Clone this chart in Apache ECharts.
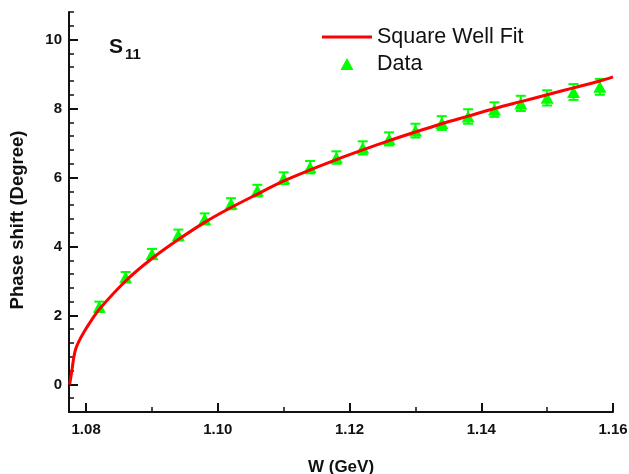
<!DOCTYPE html>
<html>
<head>
<meta charset="utf-8">
<script src="https://cdn.jsdelivr.net/npm/echarts@6/dist/echarts.min.js"></script>
<style>html,body{margin:0;padding:0;background:#fff}#c{width:629px;height:474px}</style>
</head>
<body>
<div id="c"></div>
<script>
// ---- data ----
const fitW = [1.0775, 1.0778, 1.0781, 1.0784, 1.0789, 1.0797, 1.0807, 1.082, 1.086, 1.090, 1.094, 1.098, 1.102, 1.106, 1.110, 1.114, 1.118, 1.122, 1.126, 1.130, 1.134, 1.138, 1.142, 1.146, 1.150, 1.154, 1.158, 1.160];
const fitDelta = [0, 0.35, 0.75, 1.02, 1.25, 1.53, 1.83, 2.18, 3.0, 3.65, 4.2, 4.7, 5.13, 5.52, 5.9, 6.22, 6.52, 6.8, 7.07, 7.32, 7.56, 7.78, 8.0, 8.2, 8.4, 8.6, 8.8, 8.92];
const dataW = [1.082, 1.086, 1.090, 1.094, 1.098, 1.102, 1.106, 1.110, 1.114, 1.118, 1.122, 1.126, 1.130, 1.134, 1.138, 1.142, 1.146, 1.150, 1.154, 1.158];
const dataDelta = [2.25, 3.11, 3.78, 4.33, 4.80, 5.24, 5.62, 5.98, 6.30, 6.58, 6.86, 7.12, 7.36, 7.58, 7.77, 7.97, 8.15, 8.31, 8.48, 8.63];
const dataErr = [0.15, 0.15, 0.15, 0.16, 0.16, 0.16, 0.17, 0.17, 0.18, 0.18, 0.19, 0.19, 0.2, 0.2, 0.21, 0.21, 0.22, 0.22, 0.23, 0.23];
const xTickLabels = [1.08, 1.10, 1.12, 1.14, 1.16];
const xMinorTicks = [1.09, 1.11, 1.13, 1.15];
const yTickLabels = [0, 2, 4, 6, 8, 10];

const FONT = 'Liberation Sans, Arial, Helvetica, sans-serif';
const yMinorTicks = [];
for (let i = -2; i <= 27; i++) { yMinorTicks.push(+(i * 0.4).toFixed(1)); }

const xMin = 1.0774, xMax = 1.16, yMin = -0.8, yMax = 10.8;

const chart = echarts.init(document.getElementById('c'), null, {renderer: 'canvas'});
const green = '#00ff00';

const option = {
  animation: false,
  backgroundColor: '#ffffff',
  grid: {left: 69, right: 16, top: 12, bottom: 62, containLabel: false, outerBoundsMode: 'none'},
  legend: {
    orient: 'vertical',
    left: 322, top: 26, padding: 0,
    itemWidth: 50, itemHeight: 12, itemGap: 5,
    symbolKeepAspect: true,
    textStyle: {fontFamily: FONT, fontSize: 21.5, color: '#111', lineHeight: 22},
    data: [
      {name: 'Square Well Fit', icon: 'path://M0,0L50,0L50,3L0,3Z', itemStyle: {color: '#ff0000'}},
      {name: 'Data', icon: 'path://M6.5,0L13,12L0,12Z', itemStyle: {color: green}}
    ]
  },
  xAxis: [{
    type: 'value', min: xMin, max: xMax,
    name: 'W (GeV)', nameLocation: 'middle', nameGap: 47,
    nameTextStyle: {fontFamily: FONT, fontSize: 17, fontWeight: 'bold', color: '#111'},
    axisLine: {show: true, onZero: false, lineStyle: {color: '#111', width: 2}},
    axisTick: {show: true, inside: true, length: 9, lineStyle: {width: 2, color: '#111'}, customValues: xTickLabels},
    axisLabel: {show: true, margin: 10, fontFamily: FONT, fontSize: 15, fontWeight: 'bold', color: '#111',
      customValues: xTickLabels, formatter: v => v.toFixed(2)},
    splitLine: {show: false}
  }, {
    type: 'value', min: xMin, max: xMax, position: 'bottom',
    axisLine: {show: false, onZero: false},
    axisTick: {show: true, inside: true, length: 5, lineStyle: {width: 1.5, color: '#111'}, customValues: xMinorTicks},
    axisLabel: {show: false},
    splitLine: {show: false}
  }],
  yAxis: [{
    type: 'value', min: yMin, max: yMax,
    name: 'Phase shift (Degree)', nameLocation: 'middle', nameGap: 42,
    nameTextStyle: {fontFamily: FONT, fontSize: 18.5, fontWeight: 'bold', color: '#111', padding: [0, 16, 0, 0]},
    axisLine: {show: true, onZero: false, lineStyle: {color: '#111', width: 2}},
    axisTick: {show: true, inside: true, length: 9, lineStyle: {width: 2, color: '#111'}, customValues: yTickLabels},
    axisLabel: {show: true, margin: 7, fontFamily: FONT, fontSize: 15, fontWeight: 'bold', color: '#111',
      customValues: yTickLabels, formatter: v => String(v)},
    splitLine: {show: false}
  }, {
    type: 'value', min: yMin, max: yMax, position: 'left',
    axisLine: {show: false, onZero: false},
    axisTick: {show: true, inside: true, length: 5, lineStyle: {width: 1.5, color: '#111'}, customValues: yMinorTicks},
    axisLabel: {show: false},
    splitLine: {show: false}
  }],
  graphic: [
    {type: 'text', left: 109, top: 37, z: 100, style: {text: 'S', font: 'bold 21px ' + FONT, fill: '#111'}},
    {type: 'text', left: 125, top: 47, z: 100, style: {text: '11', font: 'bold 15px ' + FONT, fill: '#111'}}
  ],
  series: [
    {
      name: 'Data-err', type: 'custom', z: 3,
      data: dataW.map((w, i) => [w, dataDelta[i], dataErr[i]]),
      renderItem: function (params, api) {
        const x = api.value(0), y = api.value(1), e = api.value(2);
        const t = api.coord([x, y + e]);
        const b = api.coord([x, y - e]);
        const hw = 5;
        const st = {stroke: green, lineWidth: 2};
        return {type: 'group', children: [
          {type: 'line', shape: {x1: t[0], y1: t[1], x2: b[0], y2: b[1]}, style: st},
          {type: 'line', shape: {x1: t[0] - hw, y1: t[1], x2: t[0] + hw, y2: t[1]}, style: st},
          {type: 'line', shape: {x1: b[0] - hw, y1: b[1], x2: b[0] + hw, y2: b[1]}, style: st}
        ]};
      }
    },
    {
      name: 'Data', type: 'scatter', z: 4,
      symbol: 'triangle', symbolSize: [13, 12],
      itemStyle: {color: green, opacity: 1},
      data: dataW.map((w, i) => [w, dataDelta[i]])
    },
    {
      name: 'Square Well Fit', type: 'line', z: 5,
      showSymbol: false, symbol: 'none',
      smooth: 0.3,
      lineStyle: {color: '#ff0000', width: 3},
      itemStyle: {color: '#ff0000'},
      data: fitW.map((w, i) => [w, fitDelta[i]])
    }
  ]
};
chart.setOption(option);
</script>
</body>
</html>
